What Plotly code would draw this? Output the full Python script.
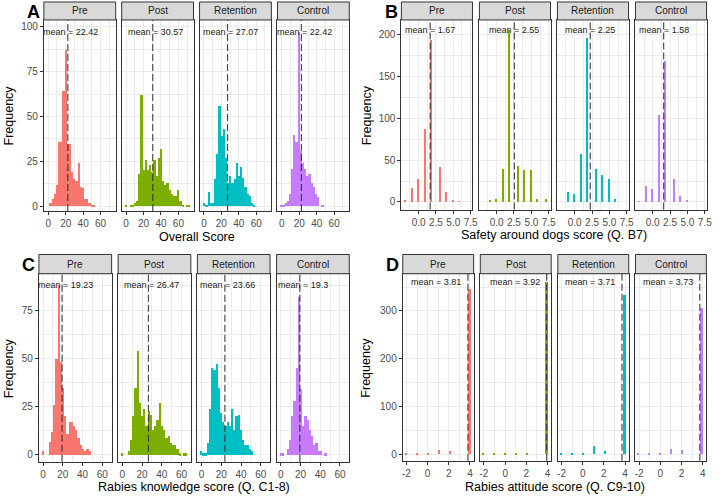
import math
import plotly.graph_objects as go

W, H = 720, 496
GROUPS = ["Pre", "Post", "Retention", "Control"]
FILLS = ["#F8766D", "#7CAE00", "#00BFC4", "#C77CFF"]

# A - overall score, histogram counts per bin (30 bins over 0-72)
OVERALL_SPAN = [0, 72]
OVERALL_PRE = [0, 2, 4, 7, 12, 36, 36, 64, 87, 35, 35, 19, 15, 14, 24, 11, 10, 4, 4, 2, 1, 1]
OVERALL_POST = [1, 0, 1, 1, 2, 3, 18, 62, 20, 26, 20, 23, 19, 26, 17, 27, 32, 14, 12, 13, 9, 7, 6, 6, 9, 3, 1, 0, 1, 1]
OVERALL_RET = [2, 1, 8, 2, 2, 15, 29, 56, 39, 43, 27, 13, 17, 13, 15, 24, 17, 22, 16, 11, 7, 6, 2, 1]
OVERALL_CON = [1, 1, 2, 3, 7, 21, 40, 36, 97, 31, 24, 21, 17, 18, 13, 11, 7, 5, 0, 1]
OVERALL_MEANS = [22.42, 30.57, 27.07, 22.42]

# B - safety around dogs (Q. B7), counts per integer score
SAFETY_SPAN = [-2, 7]
SAFETY_SCORES = [-2, -1, 0, 1, 2, 3, 4, 5, 6, 7]
SAFETY_PRE = [2, 17, 28, 88, 194, 42, 12, 2, 1, 0]
SAFETY_POST = [0, 2, 4, 40, 206, 43, 38, 38, 3, 3]
SAFETY_RET = [0, 12, 9, 57, 197, 40, 32, 28, 4, 0]
SAFETY_CON = [1, 19, 15, 104, 169, 27, 7, 2, 0, 0]
SAFETY_MEANS = [1.67, 2.55, 2.25, 1.58]

# C - rabies knowledge (Q. C1-8), histogram counts per bin (30 bins over 0-65)
KNOW_SPAN = [0, 65]
KNOW_PRE = [2, 0, 0, 7, 12, 26, 50, 88, 48, 35, 20, 11, 17, 17, 15, 13, 9, 5, 3, 2, 3, 2]
KNOW_POST = [1, 0, 0, 2, 8, 20, 35, 54, 27, 20, 24, 15, 23, 21, 13, 15, 18, 27, 15, 13, 9, 10, 6, 5, 5, 3, 1, 0, 1, 1]
KNOW_RET = [2, 1, 1, 6, 24, 45, 44, 47, 35, 22, 17, 15, 17, 15, 24, 13, 20, 21, 13, 8, 5, 5, 3, 2]
KNOW_CON = [1, 1, 0, 3, 8, 20, 28, 45, 82, 34, 15, 20, 18, 13, 10, 5, 6, 2, 2, 0, 1]
KNOW_MEANS = [19.23, 26.47, 23.66, 19.3]

# D - rabies attitude (Q. C9-10), counts per integer score
ATT_SPAN = [-2, 4]
ATT_SCORES = [-2, -1, 0, 1, 2, 3, 4]
ATT_PRE = [1, 2, 2, 10, 8, 0, 347]
ATT_POST = [1, 2, 2, 1, 3, 0, 361]
ATT_RET = [2, 2, 3, 17, 8, 0, 333]
ATT_CON = [3, 1, 3, 12, 9, 0, 307]
ATT_MEANS = [3.81, 3.92, 3.71, 3.73]


def gg_bins(span, bins=30):
    # bin placement used by ggplot2 geom_histogram(bins = 30)
    lo, hi = span
    width = (hi - lo) / (bins - 1)
    boundary = width / 2
    origin = boundary + math.floor((lo - boundary) / width) * width
    return origin, width


def hist_bars(counts, span):
    origin, width = gg_bins(span)
    return [origin + (i + 0.5) * width for i in range(len(counts))], counts, width


def score_bars(scores, counts, span):
    origin, width = gg_bins(span)
    idx = [math.ceil((s - origin) / width - 1e-9) - 1 for s in scores]
    return [origin + (i + 0.5) * width for i in idx], counts, width


panels = [
    dict(letter="A", title="Overall Score", means=OVERALL_MEANS,
         bars=[hist_bars(c, OVERALL_SPAN) for c in (OVERALL_PRE, OVERALL_POST, OVERALL_RET, OVERALL_CON)],
         xrange=[-5.0, 77.3], yrange=[-2.6, 103.7],
         xticks=[0, 20, 40, 60], xtext=None, xminor=[10, 30, 50, 70],
         yticks=[0, 25, 50, 75, 100], yminor=[12.5, 37.5, 62.5, 87.5],
         lefts=[43.3, 121.9, 200.5, 279.2], width=72.5, top=20, bottom=211.5, strip_top=2,
         letter_xy=(33, 12), ytitle_x=8, xtitle_y=237, shift=3),
    dict(letter="B", title="Safety around dogs score (Q. B7)", means=SAFETY_MEANS,
         bars=[score_bars(SAFETY_SCORES, c, SAFETY_SPAN) for c in (SAFETY_PRE, SAFETY_POST, SAFETY_RET, SAFETY_CON)],
         xrange=[-2.48, 7.76], yrange=[-9.2, 218],
         xticks=[0, 2.5, 5, 7.5], xtext=["0.0", "2.5", "5.0", "7.5"], xminor=[-1.25, 1.25, 3.75, 6.25],
         yticks=[0, 50, 100, 150, 200], yminor=[25, 75, 125, 175],
         lefts=[404.3, 483.1, 561.9, 640.7], width=71.8, top=20, bottom=210, strip_top=2,
         letter_xy=(394, 12), ytitle_x=369, xtitle_y=235, shift=0),
    dict(letter="C", title="Rabies knowledge score (Q. C1-8)", means=KNOW_MEANS,
         bars=[hist_bars(c, KNOW_SPAN) for c in (KNOW_PRE, KNOW_POST, KNOW_RET, KNOW_CON)],
         xrange=[-4.2, 69.4], yrange=[-3.6, 93.8],
         xticks=[0, 20, 40, 60], xtext=None, xminor=[10, 30, 50],
         yticks=[0, 25, 50, 75], yminor=[12.5, 37.5, 62.5, 87.5],
         lefts=[38.3, 118.3, 198.3, 278.3], width=73.4, top=274.3, bottom=462.7, strip_top=255,
         letter_xy=(28, 265.5), ytitle_x=7.5, xtitle_y=488, shift=3),
    dict(letter="D", title="Rabies attitude score (Q. C9-10)", means=ATT_MEANS,
         bars=[score_bars(ATT_SCORES, c, ATT_SPAN) for c in (ATT_PRE, ATT_POST, ATT_RET, ATT_CON)],
         xrange=[-2.35, 4.35], yrange=[-14, 378],
         xticks=[-2, 0, 2, 4], xtext=None, xminor=[-1, 1, 3],
         yticks=[0, 100, 200, 300], yminor=[50, 150, 250, 350],
         lefts=[405.7, 484.0, 562.3, 640.7], width=71.6, top=274.3, bottom=461.7, strip_top=255,
         letter_xy=(395, 265.5), ytitle_x=369, xtitle_y=488, shift=-3),
]

FONT = "Liberation Sans, Arial, sans-serif"
GRID = "#EBEBEB"
EDGE = "#333333"

fig = go.Figure()
shapes, annotations, axes = [], [], {}

for p, panel in enumerate(panels):
    label_y = max(max(b[1]) for b in panel["bars"])
    for f, group in enumerate(GROUPS):
        n = p * 4 + f + 1
        xs = "x" if n == 1 else "x%d" % n
        ys = "y" if n == 1 else "y%d" % n
        x, counts, width = panel["bars"][f]
        fig.add_trace(go.Bar(x=x, y=counts, width=width, xaxis=xs, yaxis=ys,
                             marker=dict(color=FILLS[f], line=dict(width=0)),
                             showlegend=False, hoverinfo="x+y"))

        left = panel["lefts"][f]
        right = left + panel["width"]
        common = dict(showgrid=True, gridcolor=GRID, gridwidth=1, zeroline=False,
                      showline=True, mirror=True, linecolor=EDGE, linewidth=1,
                      tickfont=dict(family=FONT, size=10, color="#4D4D4D"),
                      tickcolor=EDGE, ticklen=3, fixedrange=True)
        axes["xaxis" if n == 1 else "xaxis%d" % n] = dict(
            common, domain=[left / W, right / W], anchor=ys, range=panel["xrange"],
            tickmode="array", tickvals=panel["xticks"],
            ticktext=panel["xtext"] or [str(t) for t in panel["xticks"]],
            ticks="outside",
            minor=dict(tickmode="array", tickvals=panel["xminor"], showgrid=True,
                       gridcolor=GRID, gridwidth=0.5))
        axes["yaxis" if n == 1 else "yaxis%d" % n] = dict(
            common, domain=[1 - panel["bottom"] / H, 1 - panel["top"] / H], anchor=xs,
            range=panel["yrange"], tickmode="array", tickvals=panel["yticks"],
            showticklabels=(f == 0), ticks="outside" if f == 0 else "",
            minor=dict(tickmode="array", tickvals=panel["yminor"], showgrid=True,
                       gridcolor=GRID, gridwidth=0.5))

        # mean line
        mean = panel["means"][f]
        shapes.append(dict(type="line", xref=xs, yref=ys + " domain", x0=mean, x1=mean,
                           y0=0, y1=1, line=dict(color="rgba(45,45,45,0.85)", width=1.2,
                                                 dash="7px,3px")))
        annotations.append(dict(x=mean + panel["shift"], y=label_y, xref=xs, yref=ys,
                                text="mean = %g" % mean, showarrow=False,
                                font=dict(family=FONT, size=9, color="#1A1A1A"),
                                xanchor="center", yanchor="middle"))

        # facet strip
        shapes.append(dict(type="rect", xref="paper", yref="paper",
                           x0=left / W, x1=right / W,
                           y0=1 - panel["top"] / H, y1=1 - panel["strip_top"] / H,
                           fillcolor="#D9D9D9", line=dict(color=EDGE, width=1), layer="above"))
        annotations.append(dict(x=(left + right) / 2 / W,
                                y=1 - (panel["top"] + panel["strip_top"]) / 2 / H,
                                xref="paper", yref="paper", text=group, showarrow=False,
                                font=dict(family=FONT, size=10, color="#1A1A1A"),
                                xanchor="center", yanchor="middle"))

    first = panel["lefts"][0]
    last = panel["lefts"][-1] + panel["width"]
    annotations.append(dict(x=panel["letter_xy"][0] / W, y=1 - panel["letter_xy"][1] / H,
                            xref="paper", yref="paper", text="<b>%s</b>" % panel["letter"],
                            showarrow=False, font=dict(family=FONT, size=18, color="black"),
                            xanchor="center", yanchor="middle"))
    annotations.append(dict(x=(first + last) / 2 / W, y=1 - panel["xtitle_y"] / H,
                            xref="paper", yref="paper", text=panel["title"], showarrow=False,
                            font=dict(family=FONT, size=12.5, color="black"),
                            xanchor="center", yanchor="middle"))
    annotations.append(dict(x=panel["ytitle_x"] / W,
                            y=1 - (panel["top"] + panel["bottom"]) / 2 / H,
                            xref="paper", yref="paper", text="Frequency", textangle=-90,
                            showarrow=False, font=dict(family=FONT, size=12.5, color="black"),
                            xanchor="center", yanchor="middle"))

fig.update_layout(width=W, height=H, margin=dict(l=0, r=0, t=0, b=0),
                  paper_bgcolor="white", plot_bgcolor="white",
                  font=dict(family=FONT), shapes=shapes, annotations=annotations,
                  bargap=0, **axes)

# the page's default body margin would push the 720x496 figure off the window
fig.write_html("out.html", config={"displayModeBar": False},
               post_script="document.body.style.margin = '0';")
